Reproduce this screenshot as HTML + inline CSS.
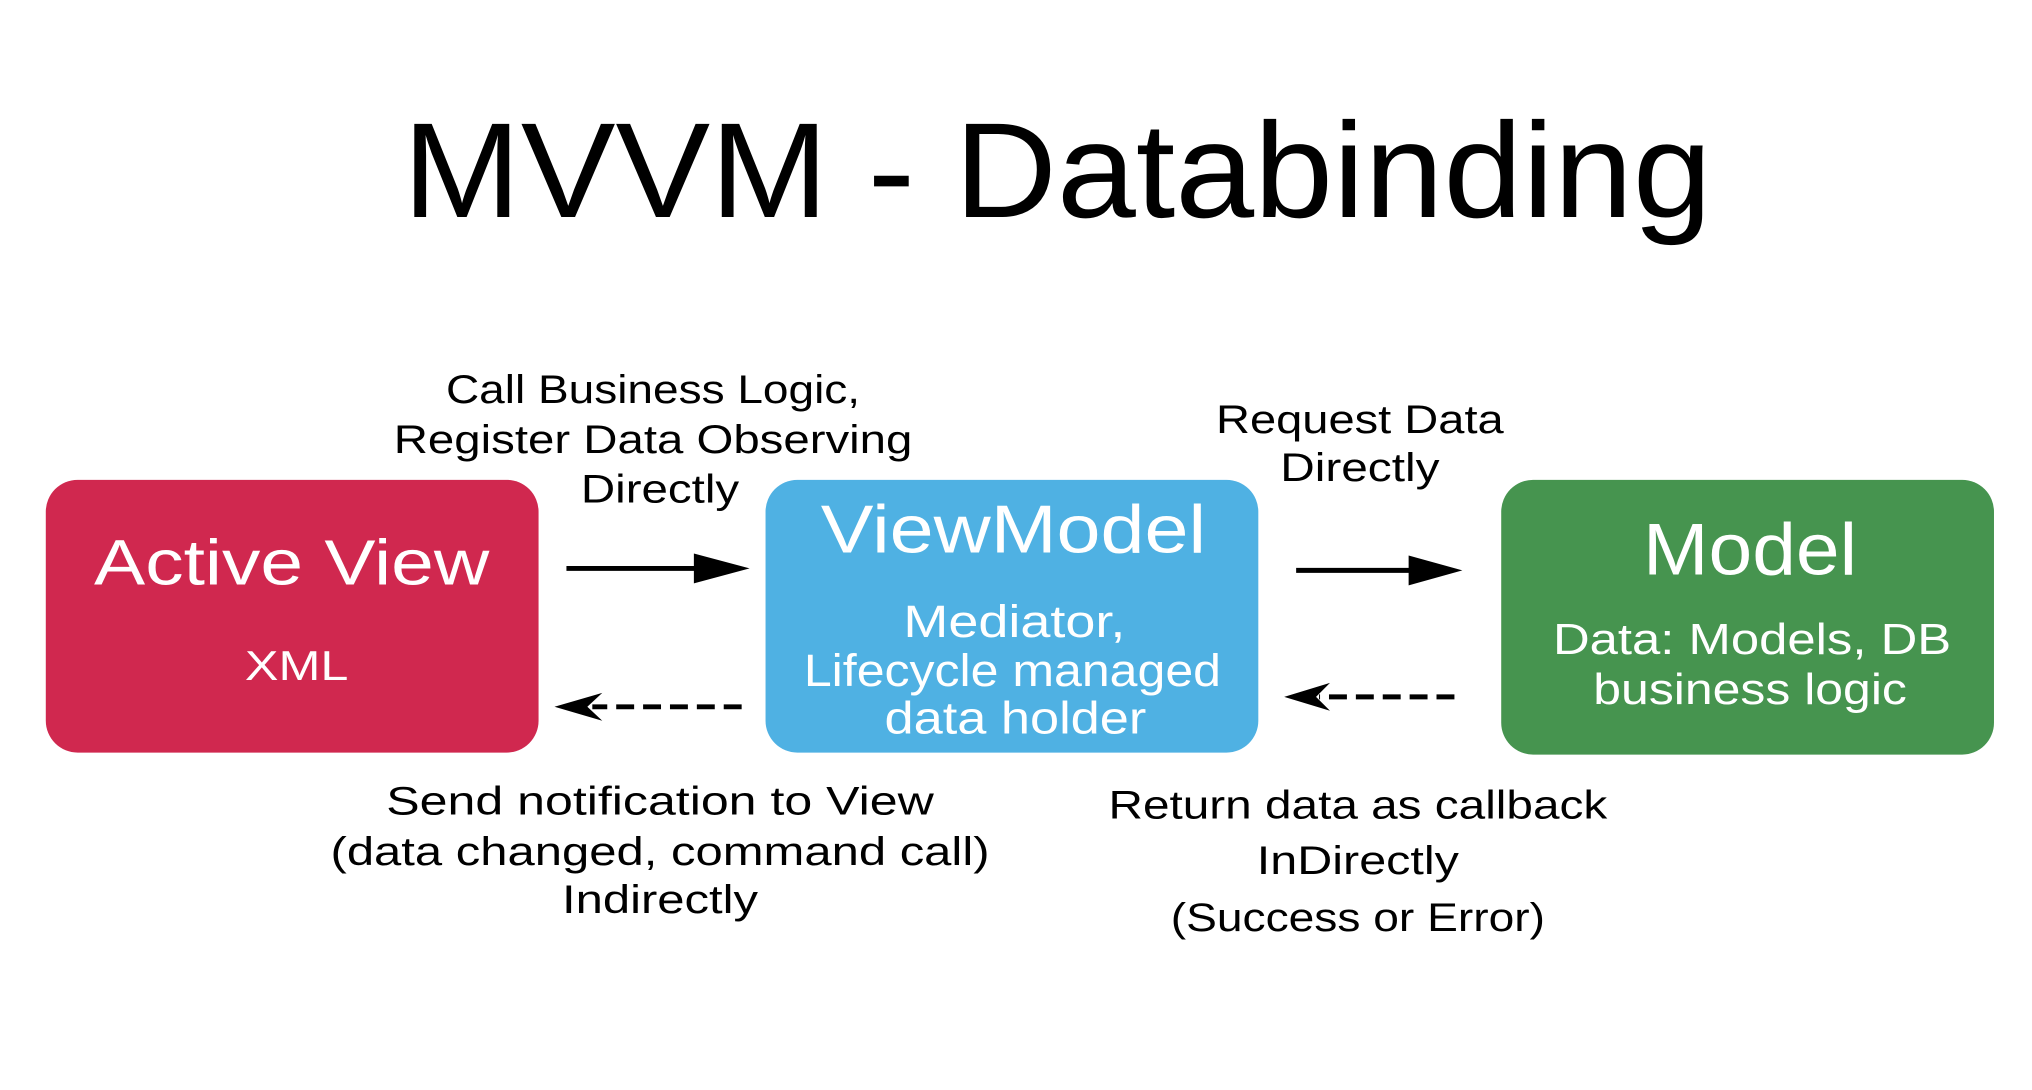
<!DOCTYPE html>
<html><head><meta charset="utf-8"><style>
html,body{margin:0;padding:0;background:#fff;}
svg{display:block;}
text{font-family:"Liberation Sans",sans-serif;}
</style></head><body>
<svg width="2032" height="1090" viewBox="0 0 2032 1090" xmlns="http://www.w3.org/2000/svg">
<rect width="2032" height="1090" fill="#fff"/>
<g transform="scale(0.9955)">
<text x="1062" y="218" font-size="136" text-anchor="middle" textLength="1315" lengthAdjust="spacingAndGlyphs" fill="#000">MVVM - Databinding</text>

<rect x="46" y="482" width="495" height="274" rx="32" fill="#d0284f"/>
<rect x="769" y="482" width="495" height="274" rx="32" fill="#4fb1e3"/>
<rect x="1508" y="482" width="495" height="276" rx="32" fill="#46944f"/>

<g fill="#fff" text-anchor="middle">
<text x="293" y="587" font-size="64" textLength="397" lengthAdjust="spacingAndGlyphs">Active View</text>
<text x="298" y="683" font-size="42" textLength="104" lengthAdjust="spacingAndGlyphs">XML</text>
<text x="1018" y="555" font-size="68" textLength="387" lengthAdjust="spacingAndGlyphs">ViewModel</text>
<text x="1019" y="640" font-size="46" textLength="223" lengthAdjust="spacingAndGlyphs">Mediator,</text>
<text x="1017" y="689" font-size="46" textLength="419" lengthAdjust="spacingAndGlyphs">Lifecycle managed</text>
<text x="1020" y="737" font-size="46" textLength="263" lengthAdjust="spacingAndGlyphs">data holder</text>
<text x="1758" y="577" font-size="74" textLength="215" lengthAdjust="spacingAndGlyphs">Model</text>
<text x="1760" y="657" font-size="44" textLength="400" lengthAdjust="spacingAndGlyphs">Data: Models, DB</text>
<text x="1758" y="707" font-size="44" textLength="315" lengthAdjust="spacingAndGlyphs">business logic</text>
</g>

<g stroke="#000" stroke-width="5" fill="none">
<line x1="569" y1="571" x2="705" y2="571"/>
<line x1="1302" y1="573" x2="1425" y2="573"/>
<line x1="745" y1="710" x2="595" y2="710" stroke-dasharray="18,9"/>
<line x1="1461" y1="700" x2="1325" y2="700" stroke-dasharray="18,9"/>
</g>
<g fill="#000">
<polygon points="697,556 753,571 697,586"/>
<polygon points="1415,558 1469,573 1415,588"/>
<polygon points="557,710 605,696 590,710 605,724"/>
<polygon points="1290,700 1336,686 1322,700 1336,714"/>
</g>

<g fill="#000" text-anchor="middle" font-size="40">
<text x="656" y="405" textLength="416" lengthAdjust="spacingAndGlyphs">Call Business Logic,</text>
<text x="656" y="455" textLength="521" lengthAdjust="spacingAndGlyphs">Register Data Observing</text>
<text x="663" y="505" textLength="159" lengthAdjust="spacingAndGlyphs">Directly</text>
<text x="1366" y="435" textLength="289" lengthAdjust="spacingAndGlyphs">Request Data</text>
<text x="1366" y="483" textLength="160" lengthAdjust="spacingAndGlyphs">Directly</text>
<text x="663" y="818" textLength="550" lengthAdjust="spacingAndGlyphs">Send notification to View</text>
<text x="663" y="869" textLength="662" lengthAdjust="spacingAndGlyphs">(data changed, command call)</text>
<text x="663" y="917" textLength="197" lengthAdjust="spacingAndGlyphs">Indirectly</text>
<text x="1364" y="822" textLength="501" lengthAdjust="spacingAndGlyphs">Return data as callback</text>
<text x="1364" y="878" textLength="203" lengthAdjust="spacingAndGlyphs">InDirectly</text>
<text x="1364" y="935" textLength="376" lengthAdjust="spacingAndGlyphs">(Success or Error)</text>
</g>
</g>
</svg>
</body></html>
